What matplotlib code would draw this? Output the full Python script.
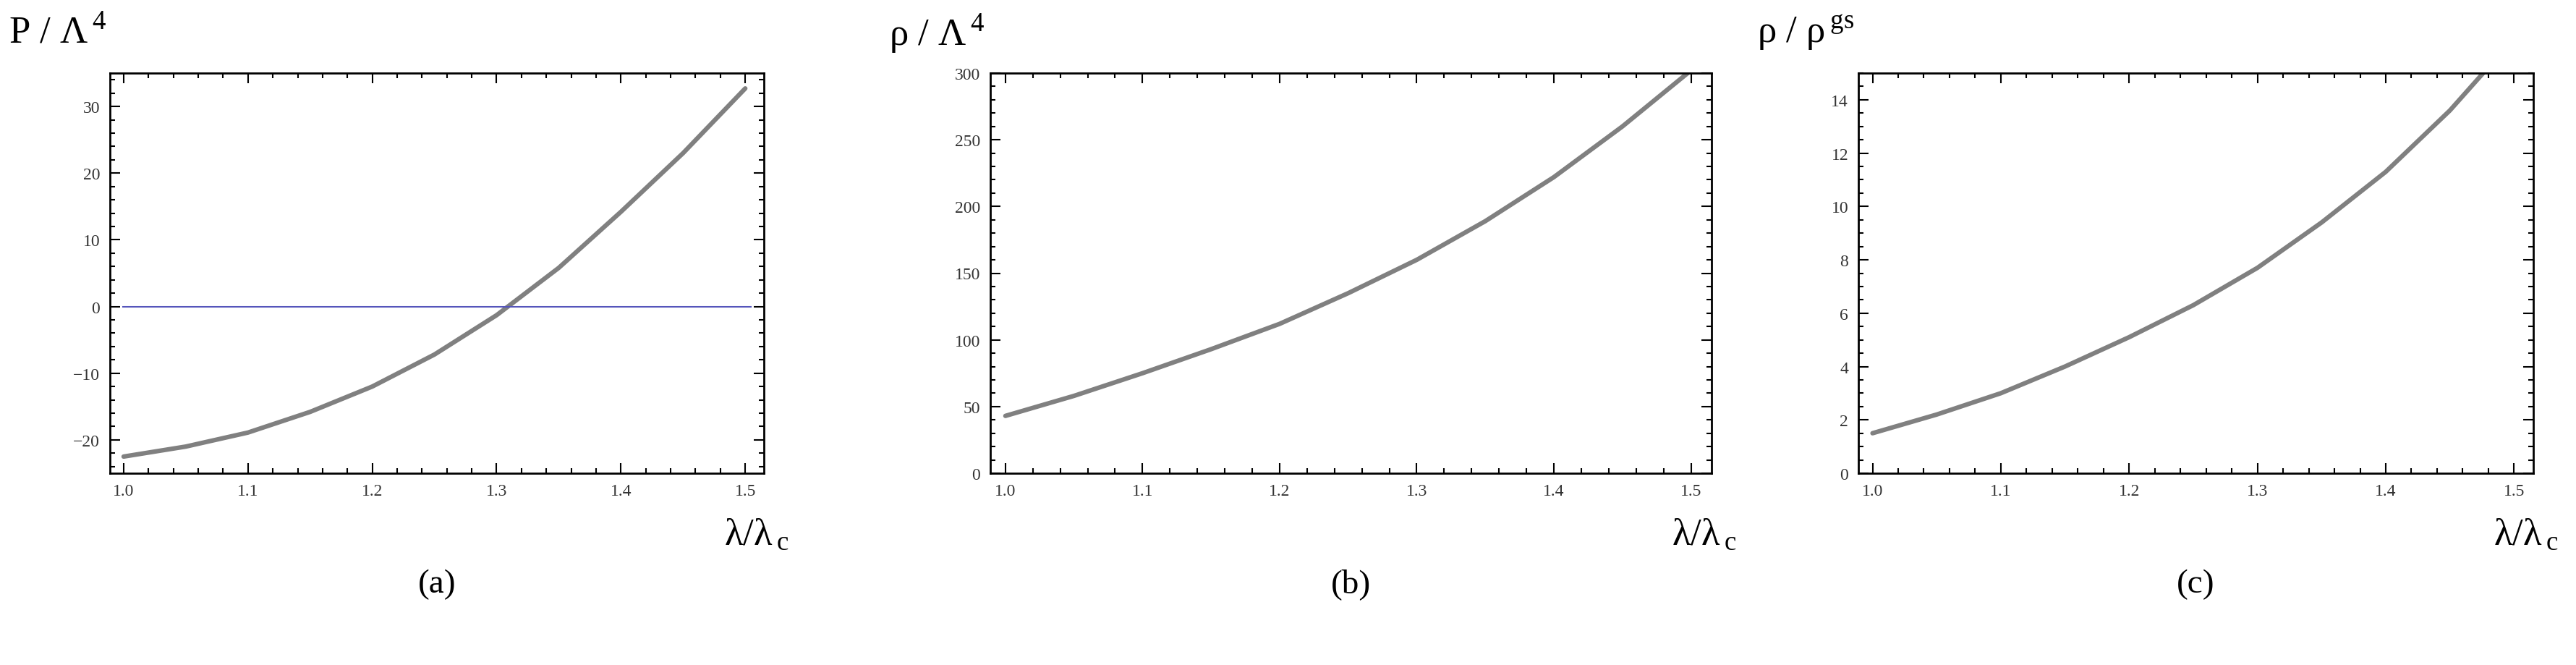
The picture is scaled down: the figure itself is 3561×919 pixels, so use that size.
import matplotlib
matplotlib.use("Agg")
import matplotlib.pyplot as plt
from matplotlib.ticker import MultipleLocator

plt.rcParams['font.family'] = ['Liberation Serif', 'DejaVu Serif']
plt.rcParams['mathtext.fontset'] = 'stix'

x = [1.0, 1.05, 1.1, 1.15, 1.2, 1.25, 1.3, 1.35, 1.4, 1.45, 1.5]
pressure = [-22.5, -21.0, -18.9, -15.8, -12.0, -7.2, -1.3, 5.8, 14.2, 23.0, 32.7]
energy = [43, 58, 75, 93, 112, 135, 160, 189, 222, 260, 302]
ratio = [1.5, 2.2, 3.0, 4.0, 5.1, 6.3, 7.7, 9.4, 11.3, 13.6, 16.3]
ylabels = ['P / Λ$\\,^{\\mathregular{4}}$', 'ρ / Λ$\\,^{\\mathregular{4}}$', 'ρ / ρ$\\,^{\\mathregular{gs}}$']
panels = ['(a)', '(b)', '(c)']

W, H = 3561, 920
fig = plt.figure(figsize=(W/100, H/100), dpi=100)
boxes = [(152, 1056), (1369, 2366), (2569, 3502)]
ylims = [(-25, 35), (0, 300), (0, 15)]
ymaj = [10, 50, 2]
ymin = [2, 10, 0.5]
series = [pressure, energy, ratio]
top, bot = 102, 655
for i, (l, r) in enumerate(boxes):
    ax = fig.add_axes([l/W, 1-bot/H, (r-l)/W, (bot-top)/H])
    ax.plot(x, series[i], color='#808080', lw=4.5, solid_capstyle='round',
            solid_joinstyle='round')
    if i == 0:
        ax.axhline(0, xmin=0.02, xmax=0.98, color='#5555bb', lw=1.5)
    ax.set_xlim(0.989, 1.515)
    ax.set_ylim(*ylims[i])
    ax.xaxis.set_major_locator(MultipleLocator(0.1))
    ax.xaxis.set_minor_locator(MultipleLocator(0.02))
    ax.yaxis.set_major_locator(MultipleLocator(ymaj[i]))
    ax.yaxis.set_minor_locator(MultipleLocator(ymin[i]))
    ax.tick_params(which='both', direction='in', top=True, right=True, width=1.5,
                   labelsize=17, labelcolor='#333333', pad=10)
    ax.tick_params(which='major', length=10)
    ax.tick_params(which='minor', length=5)
    ax.xaxis.set_major_formatter(matplotlib.ticker.FormatStrFormatter('%.1f'))
    for s in ax.spines.values():
        s.set_linewidth(2)
    fig.text((l - 140)/W, 1-46/H, ylabels[i], fontsize=38, ha='left', va='center')
    fig.text((r - 10)/W, 1-740/H, 'λ/λ$\\,_{\\mathregular{c}}$', fontsize=38, ha='center', va='center')
    fig.text((l + r)/2/W, 1-808/H, panels[i], fontsize=34, ha='center', va='center')

fig.savefig('out.png', dpi=100)
